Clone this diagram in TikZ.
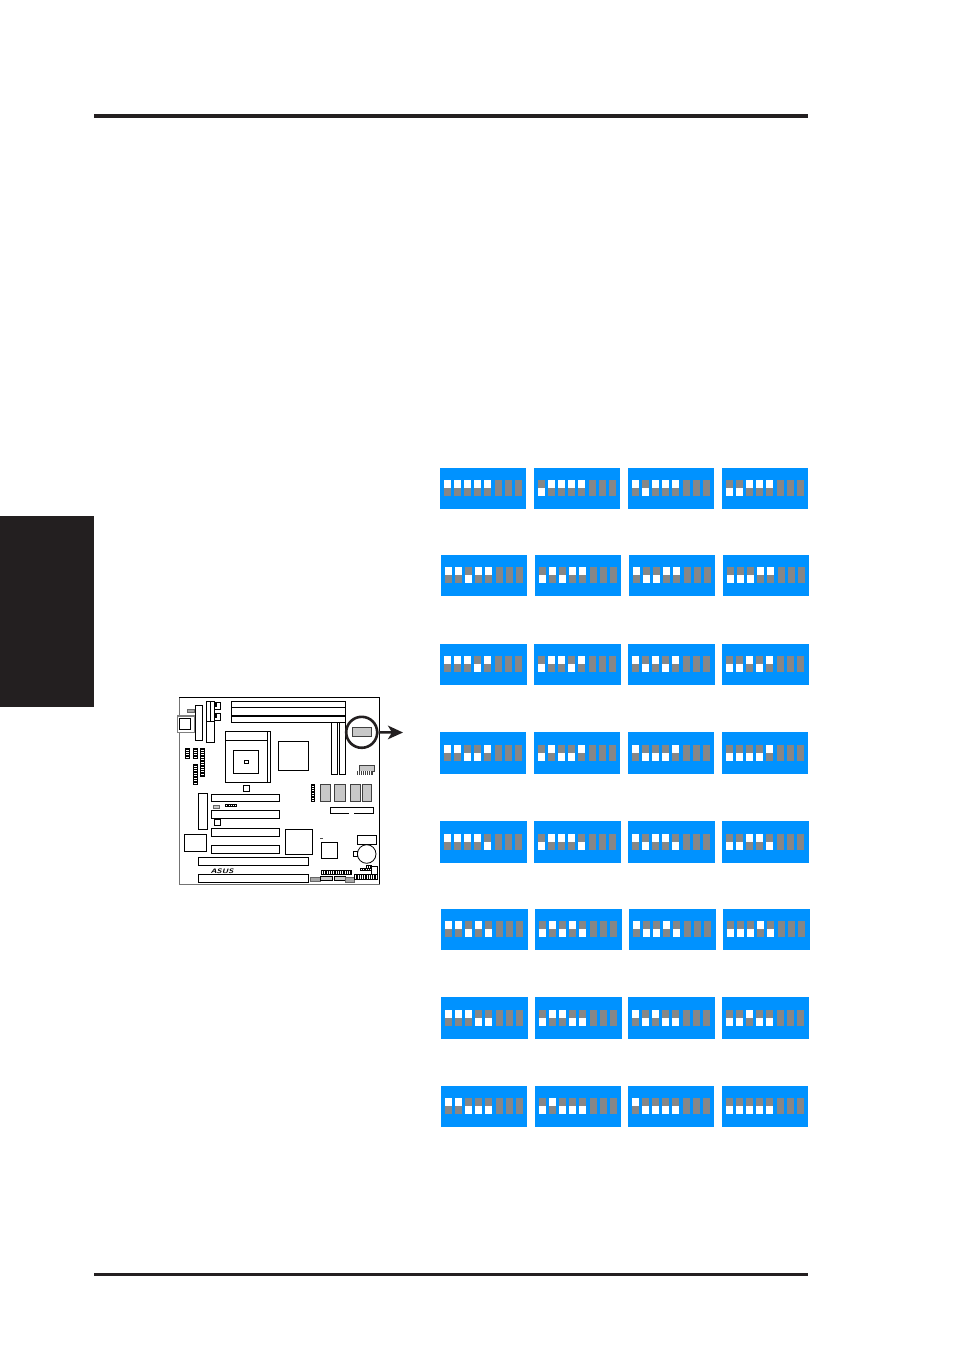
\documentclass[tikz,border=0pt]{standalone}
\usepackage{xcolor}
\usetikzlibrary{arrows.meta,positioning}

\definecolor{dipblue}{RGB}{0,146,255}
\definecolor{dipgray}{RGB}{134,134,134}
\definecolor{inkblack}{RGB}{35,31,32}
\definecolor{chipgray}{RGB}{200,200,200}

\tikzset{
  part/.style={draw=black, line width=0.8pt},
  chippart/.style={draw=black!75, fill=chipgray, line width=0.8pt},
  pinpart/.style={draw=black, line width=0.6pt},
  graypart/.style={draw=black!60, fill=black!35, line width=0.6pt}
}

% one blue box with eight slide switches
\newcommand{\dipbox}[5]{
  \fill[dipblue] (#1,#2) rectangle ++(#3,#4);
  \pgfmathsetmacro{\st}{#2+#4-29}
  \foreach \b [count=\i] in {#5}{
    \pgfmathsetmacro{\sx}{#1+4.2+10*(\i-1)}
    \fill[dipgray] (\sx,\st) rectangle ++(6.8,16);
    \ifnum\b=1
      \fill[white] (\sx,\st) rectangle ++(6.8,8);
    \else
      \fill[white] (\sx,\st+8) rectangle ++(6.8,8);
    \fi
  }
  \foreach \i in {5,6,7}{
    \pgfmathsetmacro{\sx}{#1+4.8+10*\i}
    \fill[dipgray] (\sx,\st) rectangle ++(6.8,16);
  }
}

% row of pins standing upright
\newcommand{\pinsv}[4]{
  \draw[pinpart] (#1,#2) rectangle (#3,#4);
  \pgfmathsetmacro{\pnext}{#2+1.7}
  \foreach \py in {#2,\pnext,...,#4}{
    \draw[pinpart] (#1,\py) -- (#3,\py);
  }
}
% row of pins lying flat
\newcommand{\pinsh}[4]{
  \draw[pinpart] (#1,#2) rectangle (#3,#4);
  \pgfmathsetmacro{\pnext}{#1+1.8}
  \foreach \px in {#1,\pnext,...,#3}{
    \draw[pinpart] (\px,#2) -- (\px,#4);
  }
}

\begin{document}
\begin{tikzpicture}[x=1pt,y=-1pt]
\useasboundingbox (0,0) rectangle (954,1351);
\fill[white] (0,0) rectangle (954,1351);

% page rules and side tab
\fill[inkblack] (94,114) rectangle (808,118);
\fill[inkblack] (94,1273) rectangle (808,1276);
\fill[inkblack] (0,516) rectangle (94,707);

% board frame
\draw[part] (179.5,697.5) rectangle (379.5,884);
\draw[black!55, line width=1pt] (179.5,697.5) -- (179.5,884) -- (379.5,884);

% memory sockets
\draw[part] (231.3,701.3) rectangle (345.7,722.7);
\draw[black, line width=1.7pt] (231.3,707.6) -- (345.7,707.6);
\draw[black, line width=1.7pt] (231.3,715.8) -- (345.7,715.8);

% power and upper left parts
\draw[part] (195.5,705) rectangle (202.7,740.7);
\draw[part] (206.7,701.3) rectangle (214.7,742.3);
\draw[part] (206.7,721.3) -- (214.7,721.3);
\draw[part] (210.7,701.3) -- (210.7,721.3);
\draw[part] (214.7,702) rectangle (220.7,709.3);
\draw[part] (214.7,713.3) rectangle (220.7,720.3);
\fill[black] (214.7,702) rectangle (216.7,707);
\fill[black] (214.7,713.3) rectangle (216.7,718.3);
\draw[graypart] (187.3,709.4) rectangle (194.7,711.8);
\draw[black!50, line width=1.2pt, fill=white] (177.3,715.9) rectangle (194.6,732.6);
\draw[part] (179.3,718.1) rectangle (190.7,729.3);

% cpu socket
\draw[part] (225.3,731.3) rectangle (270,782.7);
\draw[part] (267.3,731.3) -- (267.3,782.7);
\draw[part] (225.3,740.7) -- (267.3,740.7);
\draw[part] (233.3,750.3) rectangle (258.7,773.7);
\draw[part] (244,760.3) rectangle (248.7,763);
\draw[part] (243.3,785.3) rectangle (249.3,791.3);

% north bridge and slim slots
\draw[part] (278,741.3) rectangle (308.7,770.3);
\draw[part] (331.3,722.7) rectangle (337.7,774.3);
\draw[part] (339,722.7) rectangle (345.3,774.3);

% headers left of the socket
\pinsv{185}{748}{189}{758.7}
\pinsv{193.3}{748}{197.3}{758.7}
\pinsv{200.3}{748}{204.7}{776.7}
\pinsv{193.3}{764}{197.3}{784}

% selection mark
\draw[chippart] (352.3,727.3) rectangle (371,736.7);
\node[circle, draw=inkblack, line width=2.6pt, minimum size=31pt, inner sep=0pt] (selmark) at (361.7,732.3) {};
\coordinate (arrowend) at (403,732.5);
\draw[inkblack, line width=2.6pt, -{Stealth[length=15pt,width=13.5pt,inset=4pt]}] (selmark) -- (arrowend);

% right side parts
\draw[chippart] (359,765.3) rectangle (374.7,771);
\fill[black!75] (357,771) rectangle (372.7,775.3);
\foreach \px in {358.5,360.5,...,372}{
  \draw[white, line width=0.3pt] (\px,771) -- (\px,775.3);
}
\pinsv{311.3}{784}{314.7}{801.3}
\draw[chippart] (320.3,784.3) rectangle (330.7,801.3);
\draw[chippart] (334.3,784.3) rectangle (345,801.3);
\draw[chippart] (350.3,784.3) rectangle (360.3,801.3);
\draw[chippart] (362.3,784.3) rectangle (371.7,801.3);
\draw[part] (349,813.7) -- (330,813.7) -- (330,807.3) -- (373.7,807.3) -- (373.7,813.7) -- (354,813.7);

% expansion slots
\draw[part] (198.3,793.3) rectangle (207.7,829.3);
\draw[part] (211.3,794.3) rectangle (279.7,801.7);
\draw[part] (211.3,810.3) rectangle (279.7,818.7);
\draw[part] (211.3,828.3) rectangle (279.7,836.3);
\draw[part] (211.3,845.3) rectangle (279.7,853.3);
\draw[part] (198.3,857.7) rectangle (308.3,865.7);
\draw[part] (198.3,874.3) rectangle (308.3,882.7);
\draw[graypart, fill=chipgray] (213.7,805) rectangle (219.7,808);
\pinsh{225}{804.3}{236}{806.7}
\draw[part] (214.3,819.3) rectangle (220,825);

% lower chips
\draw[part] (184.3,834.7) rectangle (206.7,851.7);
\draw[part] (285.3,829.3) rectangle (312.7,854.3);
\fill[black!70] (320.3,837.7) rectangle (323,839.3);
\draw[part] (321.3,842.3) rectangle (337.7,858.7);
\draw[part] (357.3,835.3) rectangle (376,844.7);
\draw[part] (366.7,854) circle (9.3);
\draw[part] (353.3,851.3) rectangle (357.3,856);

% board logo
\node[inner sep=0pt, xscale=1.3, font=\fontsize{6.5}{6.5}\selectfont\sffamily\bfseries\itshape] (boardlogo) at (222,871) {ASUS};

% bottom edge connectors
\pinsh{321.3}{870}{351}{874.3}
\draw[graypart] (310.7,877.3) rectangle (320,881.3);
\draw[part, fill=black!20] (320.7,876) rectangle (332,880.7);
\draw[part, fill=black!20] (334.3,876) rectangle (345.7,880.7);
\draw[graypart] (345.3,877.3) rectangle (354.7,882);
\pinsh{354}{874}{377.3}{879.3}
\draw[part] (371.7,866) rectangle (377.3,874);
\pinsh{360.3}{868}{371.7}{870.7}
\pinsh{366.7}{865.3}{371.3}{868}

% switch settings
\foreach \ry/\rw/\rh/\ca/\cb/\cc/\cd/\sc/\sd/\se in {
  468/86/41/440/534/628/722/1/1/1,
  555/86/41/441/535/629/723/0/1/1,
  644/87/41/440/534/628/722/1/0/1,
  732/86/42/440/534/628/722/0/0/1,
  821/87/42/440/534/628/722/1/1/0,
  909/87/41/441/535/629/723/0/1/0,
  997/87/42/441/535/628/722/1/0/0,
  1086/86/41/441/535/628/722/0/0/0}{
  \dipbox{\ca}{\ry}{\rw}{\rh}{1,1,\sc,\sd,\se}
  \dipbox{\cb}{\ry}{\rw}{\rh}{0,1,\sc,\sd,\se}
  \dipbox{\cc}{\ry}{\rw}{\rh}{1,0,\sc,\sd,\se}
  \dipbox{\cd}{\ry}{\rw}{\rh}{0,0,\sc,\sd,\se}
}
\end{tikzpicture}
\end{document}
